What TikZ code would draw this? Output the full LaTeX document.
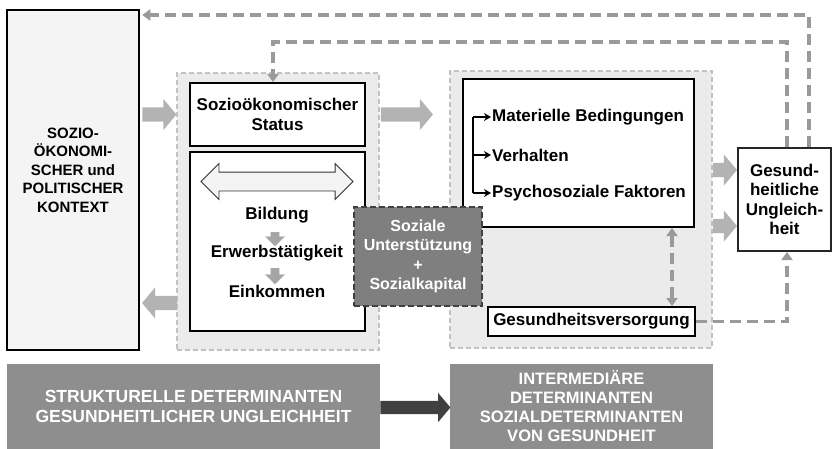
\documentclass[tikz,border=0pt]{standalone}
\usepackage{fontspec}
\setmainfont{Liberation Sans}
\usepackage{tikz}
\usetikzlibrary{positioning,calc,shapes.arrows,arrows.meta}
\definecolor{kontextgrau}{HTML}{F4F4F4}
\definecolor{feldgrau}{HTML}{EBEBEB}
\definecolor{feldrand}{HTML}{C2C2C2}
\definecolor{pfeilgrau}{HTML}{B3B3B3}
\definecolor{strichgrau}{HTML}{9A9A9A}
\definecolor{sozialgrau}{HTML}{7F7F7F}
\definecolor{balkengrau}{HTML}{8E8E8E}
\definecolor{dunkelgrau}{HTML}{404040}
\newcommand{\schrift}[2]{\bfseries\fontsize{#1}{#2}\selectfont}

\begin{document}
\begin{tikzpicture}[x=1pt,y=-1pt,
  feld/.style={draw=feldrand,fill=feldgrau,line width=1.5pt,dash pattern=on 5pt off 3pt,
    minimum width=#1,inner sep=0pt},
  kasten/.style={draw=black,fill=white,line width=2pt,inner sep=0pt,align=center,
    font=\schrift{17}{19.5}},
  balken/.style={fill=balkengrau,text=white,inner sep=0pt,align=center},
  blockpfeil/.style={single arrow,fill=pfeilgrau,inner xsep=0pt,inner ysep=7pt,
    text height=0pt,text depth=0pt,single arrow head extend=8.5pt,single arrow tip angle=100},
  kleinpfeil/.style={single arrow,fill=pfeilgrau!92!black,draw=pfeilgrau,inner sep=4pt,
    text height=0pt,text depth=0pt,single arrow head extend=5.5pt,shape border rotate=270},
  rueck/.style={draw=strichgrau,line width=3.3pt,dash pattern=on 11pt off 6pt},
  spitze/.style={-{Triangle[width=11pt,length=8pt]}},
  eintrag/.style={anchor=west,inner sep=0pt,font=\schrift{17}{19.5}}]
\useasboundingbox (0,0) rectangle (832,448);

% Kontext links
\node[draw=black,fill=kontextgrau,line width=2.5pt,minimum width=132pt,minimum height=340pt,inner sep=0pt]
  (kontext) at (73,180) {};
\node[align=center,font=\schrift{15}{18.5}] (kontexttext) at ([yshift=10pt]kontext.center)
  {SOZIO-\\ÖKONOMI-\\SCHER und\\POLITISCHER\\KONTEXT};

% strukturelle Determinanten
\node[feld=202pt,minimum height=277pt] (strukt) at (278,211.5) {};
\node[kasten,minimum width=175pt,minimum height=63pt] (status) at (277.5,114.5)
  {Sozioökonomischer\\Status};
\node[kasten,minimum width=175pt,minimum height=179pt] (gefuege) at (277.5,241.5) {};
\node[double arrow,draw=black!80,fill=kontextgrau,line width=0.8pt,minimum height=152pt,
  inner xsep=0pt,inner ysep=9pt,text height=0pt,text depth=0pt,double arrow head extend=8.5pt]
  (wechsel) at (277,181.5) {};
\node[font=\schrift{17}{19.5}] (bildung) at (277,215) {Bildung};
\node[font=\schrift{17}{19.5}] (erwerb) at (277,253) {Erwerbstätigkeit};
\node[font=\schrift{17}{19.5}] (einkommen) at (277,291) {Einkommen};
\node[kleinpfeil,minimum height=14pt,anchor=tail] (pfeilBE) at (275,232) {};
\node[kleinpfeil,minimum height=16pt,anchor=tail] (pfeilEE) at (275,268) {};

% intermediaere Determinanten
\node[feld=262pt,minimum height=277pt] (interm) at (581,209.5) {};
\node[kasten,minimum width=231pt,minimum height=148pt] (bedingung) at (578.5,153) {};
\node[eintrag] (mat) at (492,117) {Materielle Bedingungen};
\node[eintrag] (verh) at (492,155) {Verhalten};
\node[eintrag] (psy) at (492,193) {Psychosoziale Faktoren};
\draw[line width=1.3pt] ([xshift=-19pt]mat.west) -- ([xshift=-19pt]psy.west);
\foreach \z in {mat,verh,psy}
  \draw[line width=1.8pt,-{Stealth[length=7pt,width=8pt]}] ([xshift=-19pt]\z.west) -- ([xshift=-1pt]\z.west);
\node[kasten,minimum width=207pt,minimum height=29pt] (versorg) at (591.5,321.5) {Gesundheitsversorgung};

% soziale Unterstuetzung
\node[draw=dunkelgrau,fill=sozialgrau,text=white,line width=2pt,dash pattern=on 6pt off 3pt,
  minimum width=128pt,minimum height=99pt,inner sep=0pt,align=center,font=\schrift{16}{19.5}]
  (sozial) at (418,256.5) {Soziale\\Unterstützung\\+\\Sozialkapital};

% Ergebnis
\node[kasten,draw=black!85,minimum width=93pt,minimum height=103pt] (ungleich) at (784.5,199.5)
  {Gesund-\\heitliche\\Ungleich-\\heit};

% Blockpfeile
\node[blockpfeil,minimum height=34pt,anchor=tail] (pfeilKS) at ([xshift=2pt]kontext.east |- status.center) {};
\node[blockpfeil,minimum height=35pt,anchor=tail,shape border rotate=180] (pfeilSK) at ([xshift=1pt]strukt.west |- 0,303) {};
\node[blockpfeil,minimum height=52pt,anchor=tail] (pfeilSI) at ([xshift=1pt]strukt.east |- status.center) {};
\node[blockpfeil,minimum height=24pt,anchor=tail] (pfeilIU1) at (interm.east |- 0,170) {};
\node[blockpfeil,minimum height=24pt,anchor=tail] (pfeilIU2) at (interm.east |- 0,226) {};

% Rueckkopplungen
\draw[rueck,spitze] ([xshift=24.5pt]ungleich.north) |- ([xshift=2pt]kontext.east |- 0,15);
\draw[rueck,spitze] ([xshift=2.5pt]ungleich.north) |- ([xshift=-4.5pt]status.north |- 0,42)
  -- ([xshift=-4.5pt]status.north);
\draw[rueck,spitze] (versorg.east) -| ([xshift=2.5pt]ungleich.south);
\draw[rueck,{Triangle[width=11pt,length=8pt]}-{Triangle[width=11pt,length=8pt]}]
  (bedingung.south -| 672,0) -- (versorg.north -| 672,0);

% Balken unten
\node[balken,minimum width=373pt,minimum height=85pt,font=\schrift{17.5}{20}] (struktbalken) at (193.5,406.5)
  {STRUKTURELLE DETERMINANTEN\\GESUNDHEITLICHER UNGLEICHHEIT};
\node[balken,minimum width=263pt,minimum height=85pt,font=\schrift{16.5}{18.7}] (intermbalken) at (581.5,406)
  {INTERMEDIÄRE\\DETERMINANTEN\\SOZIALDETERMINANTEN\\VON GESUNDHEIT};
\node[single arrow,fill=dunkelgrau,inner xsep=0pt,inner ysep=6.5pt,text height=0pt,text depth=0pt,
  single arrow head extend=8pt,single arrow tip angle=100,minimum height=70pt,anchor=tail]
  (pfeilSB) at (struktbalken.east |- 0,407.5) {};
\end{tikzpicture}
\end{document}
